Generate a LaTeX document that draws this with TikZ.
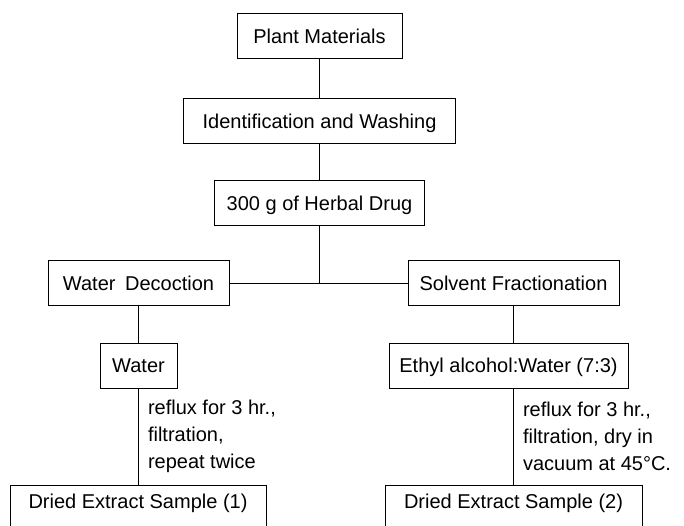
\documentclass[tikz,border=0pt]{standalone}
\usepackage{fontspec}
\setmainfont{Liberation Sans}
\usetikzlibrary{positioning}

\begin{document}
\begin{tikzpicture}[
    x=1pt, y=-1pt,
    node distance=38pt,
    stage/.style={rectangle, draw, line width=1pt, minimum height=45pt, inner xsep=6pt, text height=14pt, text depth=0pt, font=\fontsize{20}{27}\selectfont},
    sample/.style={stage, minimum height=0pt, text depth=35pt, inner ysep=9pt, anchor=north},
    note/.style={right, align=left, inner xsep=9pt, font=\fontsize{20}{27}\selectfont}]
    \clip (0,0) rectangle (684,525);
    \node[stage, minimum width=165pt] (plant) at (319.5,36) {Plant Materials};
    \node[stage, minimum width=272pt, below=39pt of plant] (ident) {Identification and Washing};
    \node[stage, minimum width=210pt, below=36pt of ident] (drug) {300 g of Herbal Drug};
    \node[stage, minimum width=181pt] (decoct) at (138.5,283) {Water\hspace{4pt} Decoction};
    \node[stage, minimum width=211pt] (solvent) at (513.5,283) {Solvent Fractionation};
    \node[stage, minimum width=77pt] (water) at (138.5,365.5) {Water};
    \node[stage, minimum width=239pt] (ethyl) at (508.5,365.5) {Ethyl alcohol:Water (7:3)};
    \node[sample, minimum width=256pt] (dried1) at (138,485) {Dried Extract Sample (1)};
    \node[sample, minimum width=257pt] (dried2) at (513.5,485) {Dried Extract Sample (2)};
    \draw[line width=1pt] (plant) -- (ident);
    \draw[line width=1pt] (ident) -- (drug);
    \draw[line width=1pt] (drug.south) -- (drug.south |- decoct.east);
    \draw[line width=1pt] (decoct.east) -- (solvent.west);
    \draw[line width=1pt] (decoct) -- (water);
    \draw[line width=1pt] (solvent.south) -- (solvent.south |- ethyl.north);
    \draw[line width=1pt] (water.south) -- node[note] {reflux for 3 hr.,\\filtration,\\repeat twice} (water.south |- dried1.north);
    \draw[line width=1pt] (solvent.south |- ethyl.south) -- node[note] {reflux for 3 hr.,\\filtration, dry in\\vacuum at 45°C.} (solvent.south |- dried2.north);
\end{tikzpicture}
\end{document}
